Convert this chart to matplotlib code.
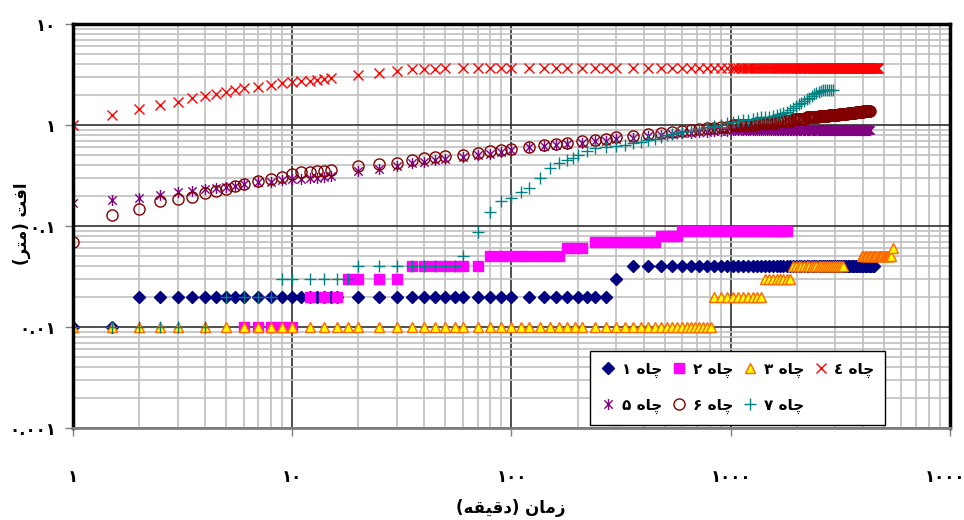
import matplotlib.pyplot as plt
from matplotlib.path import Path
from matplotlib.ticker import FixedLocator, LogLocator, NullFormatter

plt.rcParams['font.family'] = ['DejaVu Sans']

# Arabic presentation forms: isolated, final, initial, medial
FORMS = {
    'ا': ('\uFE8D', '\uFE8E', None, None),
    'ز': ('\uFEAF', '\uFEB0', None, None),
    'د': ('\uFEA9', '\uFEAA', None, None),
    'ر': ('\uFEAD', '\uFEAE', None, None),
    'م': ('\uFEE1', '\uFEE2', '\uFEE3', '\uFEE4'),
    'ن': ('\uFEE5', '\uFEE6', '\uFEE7', '\uFEE8'),
    'ق': ('\uFED5', '\uFED6', '\uFED7', '\uFED8'),
    'ی': ('\uFBFC', '\uFBFD', '\uFBFE', '\uFBFF'),
    'ه': ('\uFEE9', '\uFEEA', '\uFEEB', '\uFEEC'),
    'ف': ('\uFED1', '\uFED2', '\uFED3', '\uFED4'),
    'ت': ('\uFE95', '\uFE96', '\uFE97', '\uFE98'),
    'چ': ('\uFB7A', '\uFB7B', '\uFB7C', '\uFB7D'),
}


def shape(word):
    """Join the letters of a Persian word and return them in visual order."""
    out = []
    for i, ch in enumerate(word):
        forms = FORMS[ch]
        joins_prev = i > 0 and FORMS[word[i - 1]][2] is not None
        joins_next = i < len(word) - 1 and forms[2] is not None
        if joins_prev and joins_next:
            out.append(forms[3])
        elif joins_prev:
            out.append(forms[1])
        elif joins_next:
            out.append(forms[2])
        else:
            out.append(forms[0])
    return ''.join(reversed(out))


def hourly(t0, t1, step=60):
    return list(range(t0, t1 + 1, step))


x_ticks = [1, 10, 100, 1000, 10000]
x_tick_labels = ['۱', '۱۰', '۱۰۰', '۱۰۰۰', '۱۰۰۰۰']
y_ticks = [0.001, 0.01, 0.1, 1, 10]
y_tick_labels = ['۰.۰۰۱', '۰.۰۱', '۰.۱', '۱', '۱۰']
well_digits = ['۱', '۲', '۳', '٤', '۵', '۶', '۷']

# wells 1-3: drawdown read to the nearest cm, grouped by reading
well1 = [
    ([1, 1.5], 0.01),
    ([2, 2.5, 3, 3.5, 4, 4.5, 5, 5.5, 6, 7, 8, 9, 10, 11, 12, 13, 14, 15, 16,
      20, 25, 30, 35, 40, 45, 50, 55, 60, 70, 80, 90, 100, 120, 140, 160, 180,
      200, 220, 240, 270], 0.02),
    ([300], 0.03),
    (hourly(360, 4500), 0.04),
]
well2 = [
    ([6, 7, 8, 9, 10], 0.01),
    ([12, 14, 16], 0.02),
    ([18, 20, 25, 30], 0.03),
    ([35, 40, 45, 50, 55, 60, 70], 0.04),
    ([80, 90, 100, 110, 120, 135, 150, 165], 0.05),
    ([180, 195, 210], 0.06),
    ([240, 270, 300, 330, 360, 390, 420, 450], 0.07),
    ([480, 510, 540, 570], 0.08),
    (hourly(600, 1800), 0.09),
]
well3 = [
    ([1, 1.5, 2, 2.5, 3, 4, 5, 6, 7, 8, 9, 10, 12, 14, 16, 18, 20, 25, 30, 35,
      40, 45, 50, 55, 60, 70, 80, 90, 100, 110, 120, 135, 150, 165, 180, 195,
      210, 240, 270, 300, 330, 360, 390, 420, 450, 480, 510, 540, 570, 600,
      630, 660, 690, 720, 750, 780, 810], 0.01),
    (hourly(840, 1380), 0.02),
    (hourly(1440, 1860), 0.03),
    (hourly(1920, 3240), 0.04),
    (hourly(3960, 5400), 0.05),
    ([5520], 0.06),
]

# wells 4-6 share the same reading times up to 16 h
t_early = [1, 1.5, 2, 2.5, 3, 3.5, 4, 4.5, 5, 5.5, 6, 7, 8, 9, 10, 11, 12, 13,
           14, 15, 20, 25, 30, 35, 40, 45, 50, 60, 70, 80, 90, 100, 120, 140,
           160, 180, 210, 240, 270, 300, 360, 420, 480, 540, 600, 660, 720,
           780, 840, 900, 960]

well4_t = t_early + hourly(1020, 4710, 30)
well4_s = [1.0, 1.25, 1.45, 1.58, 1.7, 1.85, 1.95, 2.05, 2.12, 2.2, 2.3, 2.38,
           2.48, 2.58, 2.65, 2.7, 2.75, 2.8, 2.85, 2.9, 3.13, 3.27, 3.43, 3.55,
           3.6, 3.62, 3.63, 3.64, 3.65, 3.65, 3.66, 3.66, 3.66, 3.66, 3.66,
           3.67, 3.67, 3.67, 3.67, 3.67, 3.68, 3.68, 3.68, 3.68, 3.68, 3.69,
           3.69, 3.69, 3.69, 3.69, 3.7] + [3.7] * 124

well5_t = t_early + hourly(1020, 4320, 30)
well5_s = [0.17, 0.18, 0.19, 0.205, 0.215, 0.22, 0.23, 0.24, 0.245, 0.25,
           0.26, 0.27, 0.275, 0.285, 0.29, 0.295, 0.3, 0.3, 0.305, 0.31,
           0.35, 0.37, 0.39, 0.42, 0.43, 0.45, 0.46, 0.48, 0.5, 0.52, 0.54,
           0.56, 0.6, 0.62, 0.64, 0.65, 0.67, 0.69, 0.7, 0.72, 0.74, 0.77,
           0.79, 0.81, 0.83, 0.84, 0.85, 0.86, 0.87, 0.88, 0.88] + [0.89] * 111

well6_t = t_early + hourly(1020, 4320, 30)
well6_s = [0.07, 0.128, 0.147, 0.177, 0.185, 0.195, 0.21, 0.22, 0.235, 0.25,
           0.26, 0.28, 0.29, 0.305, 0.33, 0.34, 0.345, 0.35, 0.35, 0.355,
           0.39, 0.41, 0.42, 0.45, 0.47, 0.48, 0.49, 0.51, 0.53, 0.55, 0.57,
           0.58, 0.61, 0.63, 0.65, 0.67, 0.69, 0.71, 0.73, 0.76, 0.78, 0.81,
           0.84, 0.86, 0.88, 0.9, 0.92, 0.93, 0.94, 0.95, 0.96] + \
    [1.0] * 10 + [1.05] * 10 + [1.1] * 10 + [1.15] * 10 + [1.19] * 10 + \
    [1.22] * 10 + [1.25] * 10 + [1.28] * 10 + [1.31] * 10 + [1.34] * 10 + \
    [1.37] * 11

well7_t = [1, 1.5, 2, 2.5, 3, 4, 5, 6, 7, 8, 9, 10, 12, 14, 16, 18, 20, 25, 30,
           35, 40, 45, 50, 55, 60, 70, 80, 90, 100, 110, 120, 135, 150, 165,
           180, 190, 200, 220, 240, 270, 300, 330, 360, 390, 420, 450, 480,
           510, 540, 570, 600] + hourly(660, 2940)
well7_s = [0.01] * 6 + [0.02] * 4 + [0.03] * 6 + [0.04] * 8 + \
    [0.05, 0.088, 0.138, 0.177, 0.19, 0.217, 0.238, 0.3, 0.375, 0.42, 0.45,
     0.47, 0.5, 0.55, 0.59, 0.61, 0.62, 0.63, 0.66, 0.68, 0.71, 0.73, 0.76,
     0.79, 0.81, 0.83, 0.85] + \
    [0.88, 0.92, 0.95, 0.98, 1.01, 1.04, 1.07, 1.09, 1.11, 1.13, 1.15, 1.17,
     1.19, 1.2, 1.21, 1.23, 1.25, 1.28, 1.31, 1.35, 1.4, 1.46, 1.53, 1.6,
     1.66, 1.73, 1.8, 1.87, 1.95, 2.02, 2.08, 2.13, 2.17, 2.2, 2.22, 2.22,
     2.22, 2.22, 2.22]


def unpack(groups):
    t, s = [], []
    for times, value in groups:
        t += times
        s += [value] * len(times)
    return t, s


# Excel-style star: vertical bar crossed by an X
star = Path([(0, -1), (0, 1), (-0.75, -0.75), (0.75, 0.75), (-0.75, 0.75), (0.75, -0.75)],
            [Path.MOVETO, Path.LINETO, Path.MOVETO, Path.LINETO, Path.MOVETO, Path.LINETO])

fig = plt.figure(figsize=(9.64, 5.2), dpi=100)
ax = fig.add_axes([73 / 964, 1 - 428 / 520, 877 / 964, 404 / 520])
ax.set_xscale('log')
ax.set_yscale('log')
ax.set_xlim(1, 10000)
ax.set_ylim(0.001, 10)

handles = []
t, s = unpack(well1)
handles += ax.plot(t, s, ls='none', marker='D', ms=6, color='#000080', mec='#000080')
t, s = unpack(well2)
handles += ax.plot(t, s, ls='none', marker='s', ms=6.5, color='#FF00FF', mec='#FF00FF')
t, s = unpack(well3)
handles += ax.plot(t, s, ls='none', marker='^', ms=7, mfc='#FFFF00', mec='#FF6600', mew=1)
handles += ax.plot(well4_t, well4_s, ls='none', marker='x', ms=7, color='#FF0000', mew=1)
handles += ax.plot(well5_t, well5_s, ls='none', marker=star, ms=8, color='#800080', mew=1)
handles += ax.plot(well6_t, well6_s, ls='none', marker='o', ms=8, mfc='none', mec='#800000', mew=1)
handles += ax.plot(well7_t, well7_s, ls='none', marker='+', ms=9, color='#008080', mew=1)

ax.xaxis.set_major_locator(FixedLocator(x_ticks))
ax.yaxis.set_major_locator(FixedLocator(y_ticks))
ax.xaxis.set_minor_locator(LogLocator(base=10, subs=range(2, 10)))
ax.yaxis.set_minor_locator(LogLocator(base=10, subs=range(2, 10)))
ax.xaxis.set_minor_formatter(NullFormatter())
ax.yaxis.set_minor_formatter(NullFormatter())
ax.set_xticklabels(x_tick_labels, fontsize=12, fontweight='bold')
ax.set_yticklabels(y_tick_labels, fontsize=12, fontweight='bold')
ax.tick_params(which='major', length=6, width=1, color='#808080')
ax.tick_params(axis='x', which='major', pad=23)
ax.tick_params(axis='y', which='major', pad=6)
ax.tick_params(which='minor', length=0)

ax.grid(which='minor', color='#c0c0c0', lw=1.2)
ax.grid(which='major', color='#303030', lw=1.2)
ax.set_axisbelow(True)
for side in ('left', 'top', 'right'):
    ax.spines[side].set_linewidth(2.5)
    ax.spines[side].set_color('black')
ax.spines['bottom'].set_linewidth(2)
ax.spines['bottom'].set_color('#808080')

fig.text(511 / 964, 1 - 508 / 520,
         '(' + shape('دقیقه') + ') ' + shape('زمان'),
         ha='center', va='center', fontsize=12, fontweight='bold')
fig.text(22 / 964, 1 - 224 / 520,
         '(' + shape('متر') + ') ' + shape('افت'),
         ha='center', va='center', rotation=90, fontsize=12, fontweight='bold')

labels = [d + ' ' + shape('چاه') for d in well_digits]
order = [0, 4, 1, 5, 2, 6, 3]
leg = ax.legend([handles[i] for i in order], [labels[i] for i in order],
                ncol=4, loc='upper left', bbox_to_anchor=(590 / 964, 1 - 351 / 520),
                bbox_transform=fig.transFigure, borderaxespad=0, fancybox=False,
                edgecolor='black', framealpha=1, handlelength=1, handletextpad=0.4,
                columnspacing=0.6, labelspacing=1.3, borderpad=0.7,
                prop={'size': 11, 'weight': 'bold'})
leg.get_frame().set_linewidth(1)

fig.savefig('out.png', dpi=100)
